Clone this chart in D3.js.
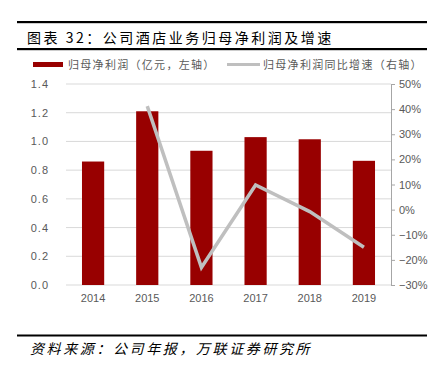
<!DOCTYPE html>
<html><head><meta charset="utf-8">
<script src="https://cdn.jsdelivr.net/npm/d3@7/dist/d3.min.js"></script>
<style>body{margin:0;background:#fff}svg{display:block}</style>
</head><body><svg id="c" width="439" height="369"></svg>
<script>
const years = ["2014","2015","2016","2017","2018","2019"];
const profit = [0.86, 1.21, 0.935, 1.03, 1.015, 0.865];
const growth = [null, 41.2, -23.0, 9.8, -0.8, -15.0];
const leftTicks = [0, 0.2, 0.4, 0.6, 0.8, 1.0, 1.2, 1.4];
const rightTicks = [-30, -20, -10, 0, 10, 20, 30, 40, 50];
const title = "图表 32：公司酒店业务归母净利润及增速";
const legendBar = "归母净利润（亿元，左轴）";
const legendLine = "归母净利润同比增速（右轴）";
const source = "资料来源：公司年报，万联证券研究所";

const svg = d3.select("#c");
const cjk = "'Noto Sans CJK SC', sans-serif";
const gray = "#595959";
const L = 66, R = 391, T = 84, B = 285;

// header lines
svg.append("rect").attr("x",17).attr("y",21).attr("width",410).attr("height",2.2).attr("fill","#000");
svg.append("rect").attr("x",17).attr("y",48).attr("width",410).attr("height",2.2).attr("fill","#000");
svg.append("text").attr("x",27).attr("y",42.5).attr("font-family",cjk).attr("font-size",14)
  .attr("letter-spacing",2.5).attr("fill","#000").text(title);

// legend
svg.append("rect").attr("x",33).attr("y",62).attr("width",30).attr("height",5).attr("fill","#980000");
svg.append("text").attr("x",68).attr("y",69).attr("font-family",cjk).attr("font-size",11)
  .attr("letter-spacing",1.3).attr("fill",gray).text(legendBar);
svg.append("line").attr("x1",227).attr("x2",260).attr("y1",64.5).attr("y2",64.5).attr("stroke","#bfbfbf").attr("stroke-width",3);
svg.append("text").attr("x",263).attr("y",69).attr("font-family",cjk).attr("font-size",11)
  .attr("letter-spacing",1.3).attr("fill",gray).text(legendLine);

const x = d3.scaleBand().domain(years).range([L, R]).paddingInner(0.59).paddingOuter(0.295);
const y = d3.scaleLinear().domain([0, 1.4]).range([B, T]);
const y2 = d3.scaleLinear().domain([-30, 50]).range([B, T]);

// gridlines
svg.append("g").selectAll("line").data(leftTicks.slice(1)).join("line")
  .attr("x1",L).attr("x2",R).attr("y1",d=>y(d)).attr("y2",d=>y(d))
  .attr("stroke","#d9d9d9").attr("stroke-width",1);
svg.append("line").attr("x1",L).attr("x2",R).attr("y1",B).attr("y2",B).attr("stroke","#d9d9d9");

// bars
svg.append("g").selectAll("rect").data(years).join("rect")
  .attr("x",d=>x(d)).attr("width",x.bandwidth())
  .attr("y",(d,i)=>y(profit[i])).attr("height",(d,i)=>B-y(profit[i]))
  .attr("fill","#980000");

// line
const xc = d => x(d) + x.bandwidth()/2;
const line = d3.line().defined(d=>d[1]!==null).x(d=>xc(d[0])).y(d=>y2(d[1]));
svg.append("path").datum(years.map((d,i)=>[d,growth[i]]))
  .attr("d",line).attr("fill","none").attr("stroke","#bfbfbf").attr("stroke-width",3.5);

// left axis
const ga = svg.append("g").attr("transform",`translate(${L},0)`)
  .call(d3.axisLeft(y).tickValues(leftTicks).tickFormat(d3.format(".1f")).tickSize(0).tickPadding(17));
ga.select(".domain").remove();
ga.selectAll("text").attr("font-family","'Liberation Sans', Arial, sans-serif").attr("font-size",11)
  .attr("letter-spacing",1).attr("fill",gray);

// right axis
const gr = svg.append("g").attr("transform",`translate(${R},0)`)
  .call(d3.axisRight(y2).tickValues(rightTicks).tickFormat(d=>(d<0?"\u2212"+(-d):d)+"%").tickSize(4).tickPadding(4));
gr.select(".domain").attr("stroke","#a6a6a6");
gr.selectAll(".tick line").attr("stroke","#a6a6a6");
gr.selectAll("text").attr("font-family","'Liberation Sans', Arial, sans-serif").attr("font-size",11).attr("fill",gray);

// x axis
const gx = svg.append("g").attr("transform",`translate(0,${B})`)
  .call(d3.axisBottom(x).tickSize(0).tickPadding(9));
gx.select(".domain").remove();
gx.selectAll("text").attr("font-family","'Liberation Sans', Arial, sans-serif").attr("font-size",11).attr("fill",gray);

// footer
svg.append("rect").attr("x",17).attr("y",334.5).attr("width",410).attr("height",2).attr("fill","#000");
svg.append("text").attr("x",30).attr("y",354).attr("font-family",cjk).attr("font-size",14)
  .attr("letter-spacing",2.6).attr("font-style","italic").attr("fill","#000").text(source);
</script></body></html>
